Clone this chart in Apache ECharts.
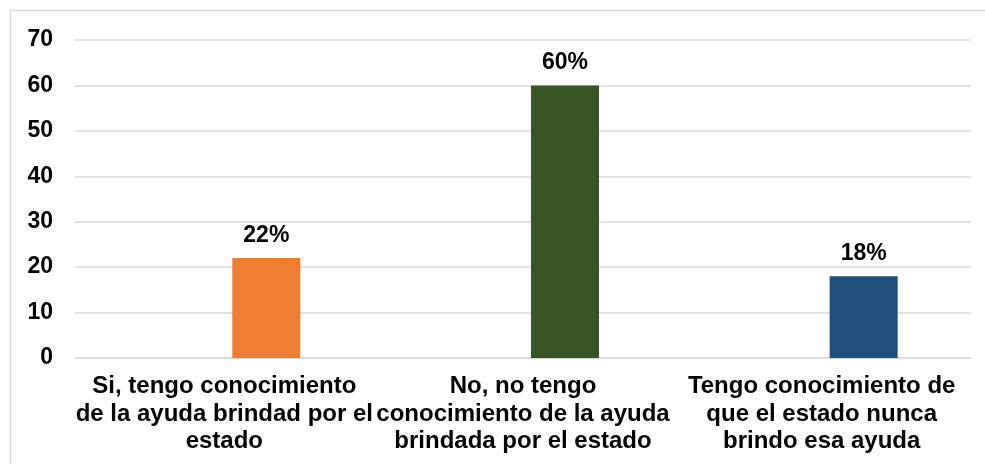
<!DOCTYPE html>
<html>
<head>
    <meta charset="utf-8">
    <title>Conocimiento de la ayuda</title>
    <style>
        body{
            margin: 0;
            padding: 0;
            background: #fff;
        }
        #container{
            width: 985px;
            height: 464px;
        }
    </style>
</head>
<body>
    <div id="container"></div>
    <script src="https://cdn.jsdelivr.net/npm/echarts@6/dist/echarts.min.js"></script>
    <script type="text/javascript">
    // datos del gráfico
    var categorias = [
        'Si, tengo conocimiento\nde la ayuda brindad por el\nestado',
        'No, no tengo\nconocimiento de la ayuda\nbrindada por el estado',
        'Tengo conocimiento de\nque el estado nunca\nbrindo esa ayuda'
    ];
    var valores = [22, 60, 18];
    var etiquetas = ['22%', '60%', '18%'];
    var colores = ['#ED7D31', '#375623', '#1F4E79'];
    var vacio = [null, null, null]; // serie vacía, empuja las barras a la derecha

    var myChart = echarts.init(document.getElementById('container'));

    var option = {
        animation: false,
        graphic: [{
            type: 'rect',
            shape: { x: 10.5, y: 10.5, width: 1000, height: 500 },
            style: { fill: 'none', stroke: '#d9d9d9', lineWidth: 1.5 },
            silent: true
        }],
        grid: {
            left: 75,
            right: 14,
            top: 40,
            bottom: 106
        },
        xAxis: {
            type: 'category',
            data: categorias,
            axisLine: { lineStyle: { color: '#d9d9d9', width: 1.5 } },
            axisTick: { show: false },
            axisLabel: {
                interval: 0,
                margin: 15,
                color: '#000',
                fontFamily: 'Liberation Sans, Arial, sans-serif',
                fontWeight: 'bold',
                fontSize: 24,
                lineHeight: 27.5,
                hideOverlap: false
            }
        },
        yAxis: {
            type: 'value',
            min: 0,
            max: 70,
            interval: 10,
            axisLine: { show: false },
            axisTick: { show: false },
            splitLine: { lineStyle: { color: '#d9d9d9', width: 1.5 } },
            axisLabel: {
                margin: 22,
                color: '#000',
                fontFamily: 'Liberation Sans, Arial, sans-serif',
                fontWeight: 'bold',
                fontSize: 23
            }
        },
        series: [
            {
                type: 'bar',
                data: vacio,
                barWidth: 68,
                barGap: '23.5%'
            },
            {
                type: 'bar',
                barWidth: 68,
                data: valores.map(function (v, i) {
                    return { value: v, itemStyle: { color: colores[i] } };
                }),
                label: {
                    show: true,
                    position: 'top',
                    distance: 11,
                    color: '#000',
                    fontFamily: 'Liberation Sans, Arial, sans-serif',
                    fontWeight: 'bold',
                    fontSize: 23,
                    formatter: function (p) {
                        return etiquetas[p.dataIndex];
                    }
                }
            }
        ]
    };

    myChart.setOption(option);
    </script>
</body>
</html>
